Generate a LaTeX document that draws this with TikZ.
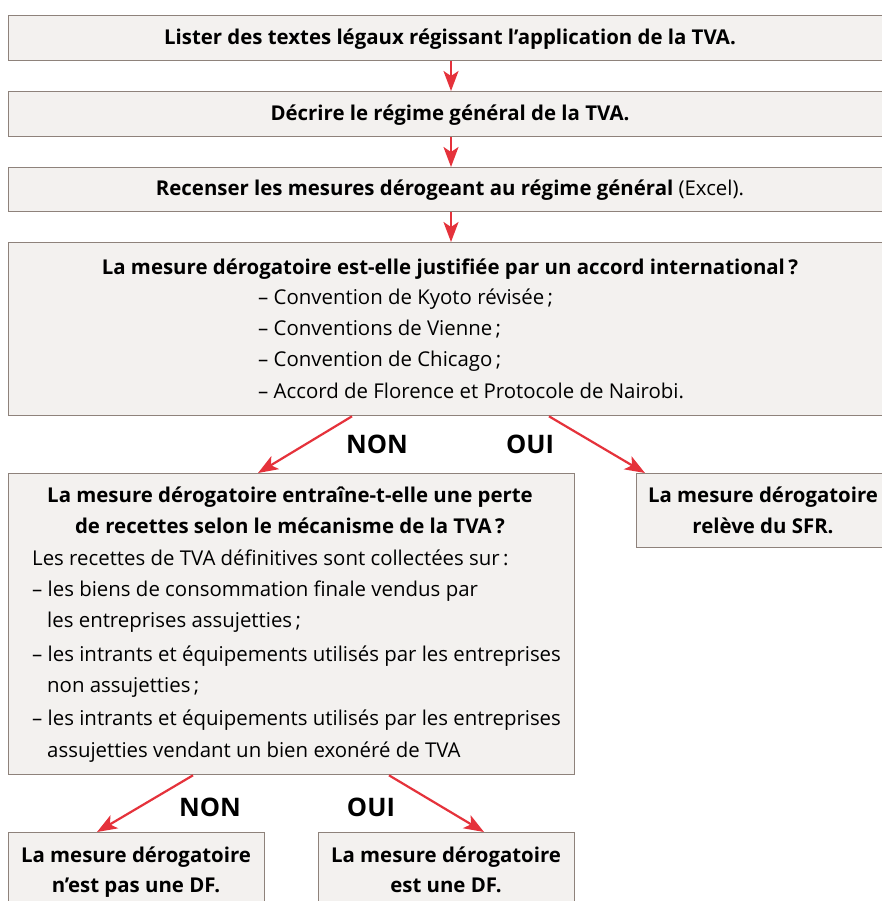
\documentclass[tikz,border=0pt]{standalone}
\usepackage{fontspec}
\setmainfont{Open Sans}
\usetikzlibrary{arrows.meta,calc}
\definecolor{boxfill}{HTML}{F3F1EF}
\definecolor{boxline}{HTML}{8E827B}
\definecolor{arr}{HTML}{E5323B}
\begin{document}
\begin{tikzpicture}[x=1pt,y=-1pt,
  box/.style={draw=boxline, fill=boxfill, line width=1.3pt, rectangle, inner sep=0pt, anchor=north west},
  txt/.style={inner sep=0pt, anchor=base, font=\fontsize{20.4}{24}\selectfont},
  ltxt/.style={txt, anchor=base west},
  lbl/.style={inner sep=0pt, anchor=base, font=\fontsize{25.5}{30}\selectfont\bfseries},
  flow/.style={draw=arr, line width=2.2pt, -{Stealth[length=20pt,width=15pt,inset=5pt]}},
]
\useasboundingbox (0,0) rectangle (882,901);
\clip (0,0) rectangle (882,901);
\fill[white] (0,0) rectangle (882,901);

% boxes
\node[box, minimum width=886pt, minimum height=45pt] (b1) at (8,15) {};
\node[box, minimum width=886pt, minimum height=45pt] (b2) at (8,91) {};
\node[box, minimum width=886pt, minimum height=44pt] (b3) at (8,167) {};
\node[box, minimum width=886pt, minimum height=173pt] (b4) at (8,242) {};
\node[box, minimum width=566pt, minimum height=301pt] (b5) at (8,473) {};
\node[box, minimum width=258pt, minimum height=74pt] (b6) at (636,473) {};
\node[box, minimum width=256pt, minimum height=80pt] (b7) at (8,832) {};
\node[box, minimum width=256pt, minimum height=80pt] (b8) at (318,832) {};

% texts
\node[txt] (t1) at (450,45) {\bfseries Lister des textes légaux régissant l’application de la TVA.};
\node[txt] (t2) at (450,121) {\bfseries Décrire le régime général de la TVA.};
\node[txt] (t3) at (450,196) {\textbf{Recenser les mesures dérogeant au régime général} (Excel).};

\node[txt] (t4) at (450,274) {\bfseries La mesure dérogatoire est-elle justifiée par un accord international\,?};
\node[ltxt] (t4a) at (258,304) {– Convention de Kyoto révisée\,;};
\node[ltxt] (t4b) at (258,335) {– Conventions de Vienne\,;};
\node[ltxt] (t4c) at (258,366) {– Convention de Chicago\,;};
\node[ltxt] (t4d) at (258,398) {– Accord de Florence et Protocole de Nairobi.};

\node[txt] (t5a) at (290,502) {\bfseries La mesure dérogatoire entraîne-t-elle une perte};
\node[txt] (t5b) at (290,533) {\bfseries de recettes selon le mécanisme de la TVA\,?};
\node[ltxt] (t5c) at (32,565) {Les recettes de TVA définitives sont collectées sur\,:};
\node[ltxt] (t5d) at (32,596) {– les biens de consommation finale vendus par};
\node[ltxt] (t5e) at (47,627) {les entreprises assujetties\,;};
\node[ltxt] (t5f) at (32,661) {– les intrants et équipements utilisés par les entreprises};
\node[ltxt] (t5g) at (47,692) {non assujetties\,;};
\node[ltxt] (t5h) at (32,725) {– les intrants et équipements utilisés par les entreprises};
\node[ltxt] (t5i) at (47,757) {assujetties vendant un bien exonéré de TVA};

\node[txt] (t6a) at (763,502) {\bfseries La mesure dérogatoire};
\node[txt] (t6b) at (763,533) {\bfseries relève du SFR.};

\node[txt] (t7a) at (136,862) {\bfseries La mesure dérogatoire};
\node[txt] (t7b) at (136,892) {\bfseries n’est pas une DF.};
\node[txt] (t8a) at (446,862) {\bfseries La mesure dérogatoire};
\node[txt] (t8b) at (446,892) {\bfseries est une DF.};

% labels
\node[lbl] (l1) at (377,453) {NON};
\node[lbl] (l2) at (530,453) {OUI};
\node[lbl] (l3) at (210,816) {NON};
\node[lbl] (l4) at (371,816) {OUI};

% connector anchors
\coordinate (a1) at ($(b1.south west)+(443,0)$);
\coordinate (a2n) at ($(b2.north west)+(443,0)$);
\coordinate (a2) at ($(b2.south west)+(443,0)$);
\coordinate (a3n) at ($(b3.north west)+(443,0)$);
\coordinate (a3) at ($(b3.south west)+(443,0)$);
\coordinate (a4n) at ($(b4.north west)+(443,0)$);
\coordinate (n1s) at ($(b4.south west)+(344,0)$);
\coordinate (n1e) at ($(b5.north west)+(250,0)$);
\coordinate (o1s) at ($(b4.south west)+(541,0)$);
\coordinate (o1e) at ($(b6.north west)+(9,0)$);
\coordinate (n2s) at ($(b5.south west)+(185,0)$);
\coordinate (n2e) at ($(b7.north west)+(89,0)$);
\coordinate (o2s) at ($(b5.south west)+(381,0)$);
\coordinate (o2e) at ($(b8.north west)+(166,0)$);

\draw[flow] (a1) -- (a2n);
\draw[flow] (a2) -- (a3n);
\draw[flow] (a3) -- (a4n);
\draw[flow] (n1s) -- (n1e);
\draw[flow] (o1s) -- (o1e);
\draw[flow] (n2s) -- (n2e);
\draw[flow] (o2s) -- (o2e);
\end{tikzpicture}
\end{document}
